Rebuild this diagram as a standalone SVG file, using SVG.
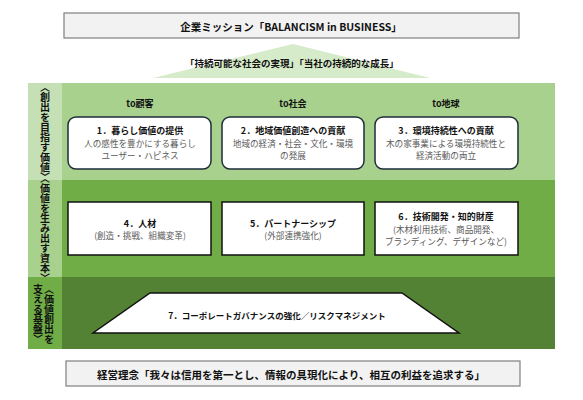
<svg xmlns="http://www.w3.org/2000/svg" width="583" height="400" viewBox="0 0 583 400">
<style>
text{font-family:"Noto Sans CJK JP","Noto Sans",sans-serif;text-anchor:middle;dominant-baseline:central}
.b{font-weight:bold;fill:#111}
.g{fill:#5a5a5a;font-size:8.6px}
.h{font-size:9px}
.frame{fill:#f2f2f2;stroke:#7f7f7f;stroke-width:1.2}
.rbox{fill:#fff;stroke:#1f2d3a;stroke-width:1.5}
.sbox{fill:#fff;stroke:#111;stroke-width:1.5}
.vt{writing-mode:vertical-rl;font-weight:bold;font-size:10px;fill:#111;text-anchor:middle}
</style>
<rect width="583" height="400" fill="#fff"/>
<g id="mission">
<rect class="frame" x="64" y="13" width="455" height="25"/>
<text class="b" x="291" y="26" font-size="10.5">企業ミッション「BALANCISM in BUSINESS」</text>
</g>
<g id="goal">
<polygon points="293,44 430,78 153,78" fill="#d6ebc9"/>
<text class="b" x="292" y="63" font-size="9.5">「持続可能な社会の実現」「当社の持続的な成長」</text>
</g>
<g id="band1">
<rect x="28" y="83" width="527" height="97" fill="#a9d18e"/>
<rect x="28" y="83" width="34" height="97" fill="#c5e0b4"/>
<text class="vt" x="45" y="132">〈創出を目指す価値〉</text>
<text class="b h" x="140" y="103">to顧客</text>
<text class="b h" x="293" y="103">to社会</text>
<text class="b h" x="446" y="103">to地球</text>
</g>
<g id="band2">
<rect x="28" y="180" width="527" height="97" fill="#70ad47"/>
<rect x="28" y="180" width="34" height="97" fill="#a9d18e"/>
<text class="vt" x="45" y="228">〈価値を生み出す資本〉</text>
</g>
<g id="band3">
<rect x="28" y="277" width="527" height="72" fill="#548235"/>
<rect x="28" y="277" width="34" height="72" fill="#70ad47"/>
<text class="vt" x="49" y="314">〈価値創出を</text>
<text class="vt" x="38" y="314">支える基盤〉</text>
</g>
<g id="node1">
<rect class="rbox" x="68" y="117" width="143" height="52" rx="8"/>
<text class="b h" x="140" y="130">1．暮らし価値の提供</text>
<text class="g" x="140" y="143" font-size="9">人の感性を豊かにする暮らし</text>
<text class="g" x="140" y="155" font-size="9">ユーザー・ハピネス</text>
</g>
<g id="node2">
<rect class="rbox" x="222" y="117" width="142" height="52" rx="8"/>
<text class="b h" x="293" y="130">2．地域価値創造への貢献</text>
<text class="g" x="293" y="143">地域の経済・社会・文化・環境</text>
<text class="g" x="293" y="155">の発展</text>
</g>
<g id="node3">
<rect class="rbox" x="375" y="117" width="143" height="52" rx="8"/>
<text class="b h" x="446" y="130">3．環境持続性への貢献</text>
<text class="g" x="446" y="143">木の家事業による環境持続性と</text>
<text class="g" x="446" y="155">経済活動の両立</text>
</g>
<g id="node4">
<rect class="sbox" x="68" y="202" width="143" height="53"/>
<text class="b h" x="140" y="223">4．人材</text>
<text class="g" x="140" y="235">(創造・挑戦、組織変革)</text>
</g>
<g id="node5">
<rect class="sbox" x="222" y="202" width="142" height="53"/>
<text class="b h" x="293" y="223">5．パートナーシップ</text>
<text class="g" x="293" y="235">(外部連携強化)</text>
</g>
<g id="node6">
<rect class="sbox" x="375" y="202" width="143" height="53"/>
<text class="b h" x="446" y="216">6．技術開発・知的財産</text>
<text class="g" x="446" y="229">(木材利用技術、商品開発、</text>
<text class="g" x="446" y="241">ブランディング、デザインなど)</text>
</g>
<g id="node7">
<polygon points="150,293 402,293 459,333 93,333" fill="#fff" stroke="#111" stroke-width="1.5"/>
<text class="b" x="277" y="315" font-size="8.5">7．コーポレートガバナンスの強化／リスクマネジメント</text>
</g>
<g id="philosophy">
<rect class="frame" x="66" y="361" width="454" height="25"/>
<text class="b" x="291" y="374" font-size="10.5">経営理念「我々は信用を第一とし、情報の具現化により、相互の利益を追求する」</text>
</g>
<g id="connectors"></g>
</svg>
